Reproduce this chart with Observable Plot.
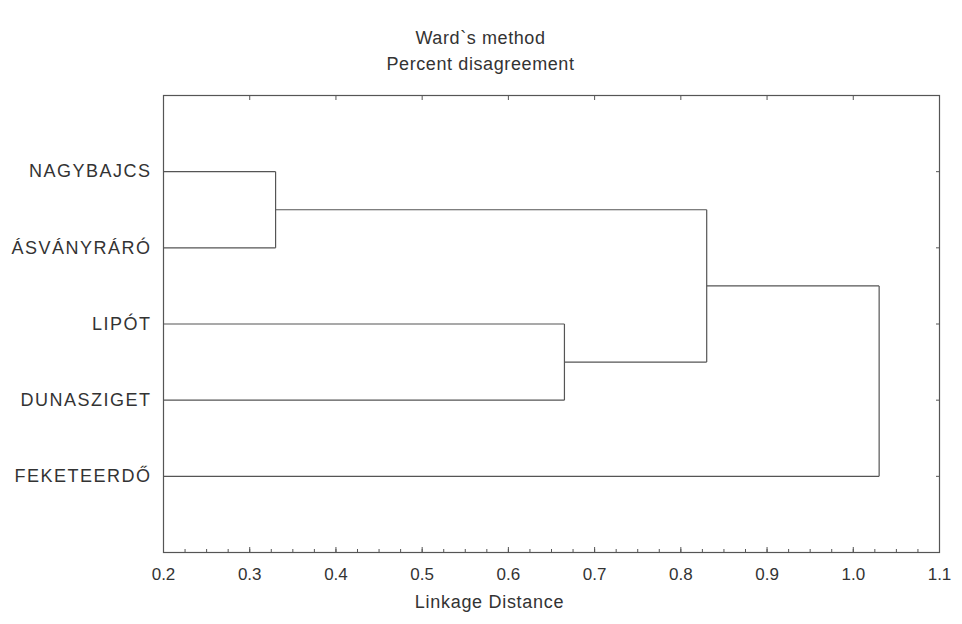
<!DOCTYPE html>
<html>
<head>
<meta charset="utf-8">
<script src="https://cdn.jsdelivr.net/npm/d3@7"></script>
<script src="https://cdn.jsdelivr.net/npm/@observablehq/plot@0.6"></script>
<style>
  html, body { margin: 0; padding: 0; background: #fff; }
  #chart { width: 962px; height: 624px; }
</style>
</head>
<body>
<div id="chart"></div>
<script>
// ---- data ----
const leaves = ["NAGYBAJCS", "ÁSVÁNYRÁRÓ", "LIPÓT", "DUNASZIGET", "FEKETEERDŐ"];
// linkage: clusters 0..4 are leaves; each merge creates cluster 5, 6, 7, 8
const mergeA = [0, 2, 5, 7];
const mergeB = [1, 3, 6, 4];
const mergeHeight = [0.33, 0.665, 0.83, 1.03];
const xTicks = [0.2, 0.3, 0.4, 0.5, 0.6, 0.7, 0.8, 0.9, 1.0, 1.1];
const title = "Ward`s method";
const subtitle = "Percent disagreement";
const xLabel = "Linkage Distance";

const xMin = xTicks[0], xMax = xTicks[xTicks.length - 1];

// ---- build dendrogram segments from linkage ----
const nodeX = leaves.map(() => xMin);
const nodeY = leaves.map((d, i) => i + 1);
const segs = [];
mergeHeight.forEach((h, i) => {
  const a = mergeA[i], b = mergeB[i];
  segs.push({x1: nodeX[a], y1: nodeY[a], x2: h, y2: nodeY[a]});
  segs.push({x1: nodeX[b], y1: nodeY[b], x2: h, y2: nodeY[b]});
  segs.push({x1: h, y1: nodeY[a], x2: h, y2: nodeY[b]});
  nodeX.push(h);
  nodeY.push((nodeY[a] + nodeY[b]) / 2);
});

const minorTicks = d3.range(0, Math.round((xMax - xMin) / 0.025) + 1).map(i => +(xMin + i * 0.025).toFixed(3));
const yIdx = leaves.map((d, i) => i + 1);

const ink = "#555";
const textInk = "#333";

const chart = Plot.plot({
  width: 962,
  height: 624,
  marginLeft: 163,
  marginRight: 23,
  marginTop: 95,
  marginBottom: 72,
  style: {fontFamily: "'Liberation Sans', Arial, sans-serif", fontSize: "14px", color: textInk, background: "#fff"},
  x: {domain: [xMin, xMax]},
  y: {domain: [0, leaves.length + 1], reverse: true},
  marks: [
    Plot.frame({stroke: ink, strokeWidth: 1.2}),
    // bottom minor ticks (inward)
    Plot.axisX(minorTicks, {anchor: "bottom", tickSize: -3, text: null, stroke: ink}),
    // bottom major ticks (inward) with labels
    Plot.axisX(xTicks, {anchor: "bottom", tickSize: -5, tickPadding: 20, tickFormat: d3.format(".1f"), stroke: ink, fill: textInk, fontSize: 17, label: null}),
    // top ticks
    Plot.axisX(xTicks, {anchor: "top", tickSize: -4, text: null, stroke: ink, label: null}),
    // right ticks at leaves
    Plot.axisY(yIdx, {anchor: "right", tickSize: -4, text: null, stroke: ink, label: null}),
    // left labels
    Plot.axisY(yIdx, {anchor: "left", tickSize: 0, tickPadding: 12, tickFormat: i => leaves[i - 1], fill: textInk, fontSize: 18, label: null}),
    Plot.link(segs, {x1: "x1", y1: "y1", x2: "x2", y2: "y2", stroke: ink, strokeWidth: 1.2}),
    // titles
    Plot.text([title], {frameAnchor: "top", dx: -71, dy: -64, fill: textInk, fontSize: 18}),
    Plot.text([subtitle], {frameAnchor: "top", dx: -71, dy: -38, fill: textInk, fontSize: 18}),
    Plot.text([xLabel], {frameAnchor: "bottom", dx: -62, dy: 55, fill: textInk, fontSize: 18})
  ]
});
document.getElementById("chart").appendChild(chart);

// letter spacing to match the scanned typeface
const svg = d3.select(chart);
svg.selectAll('g[aria-label="y-axis tick label"] text').style("letter-spacing", "1.5px");
svg.selectAll("text").each(function() {
  const t = this.textContent;
  if (t === title || t === subtitle) d3.select(this).style("letter-spacing", "0.6px");
  if (t === xLabel) d3.select(this).style("letter-spacing", "0.7px");
});
</script>
</body>
</html>
